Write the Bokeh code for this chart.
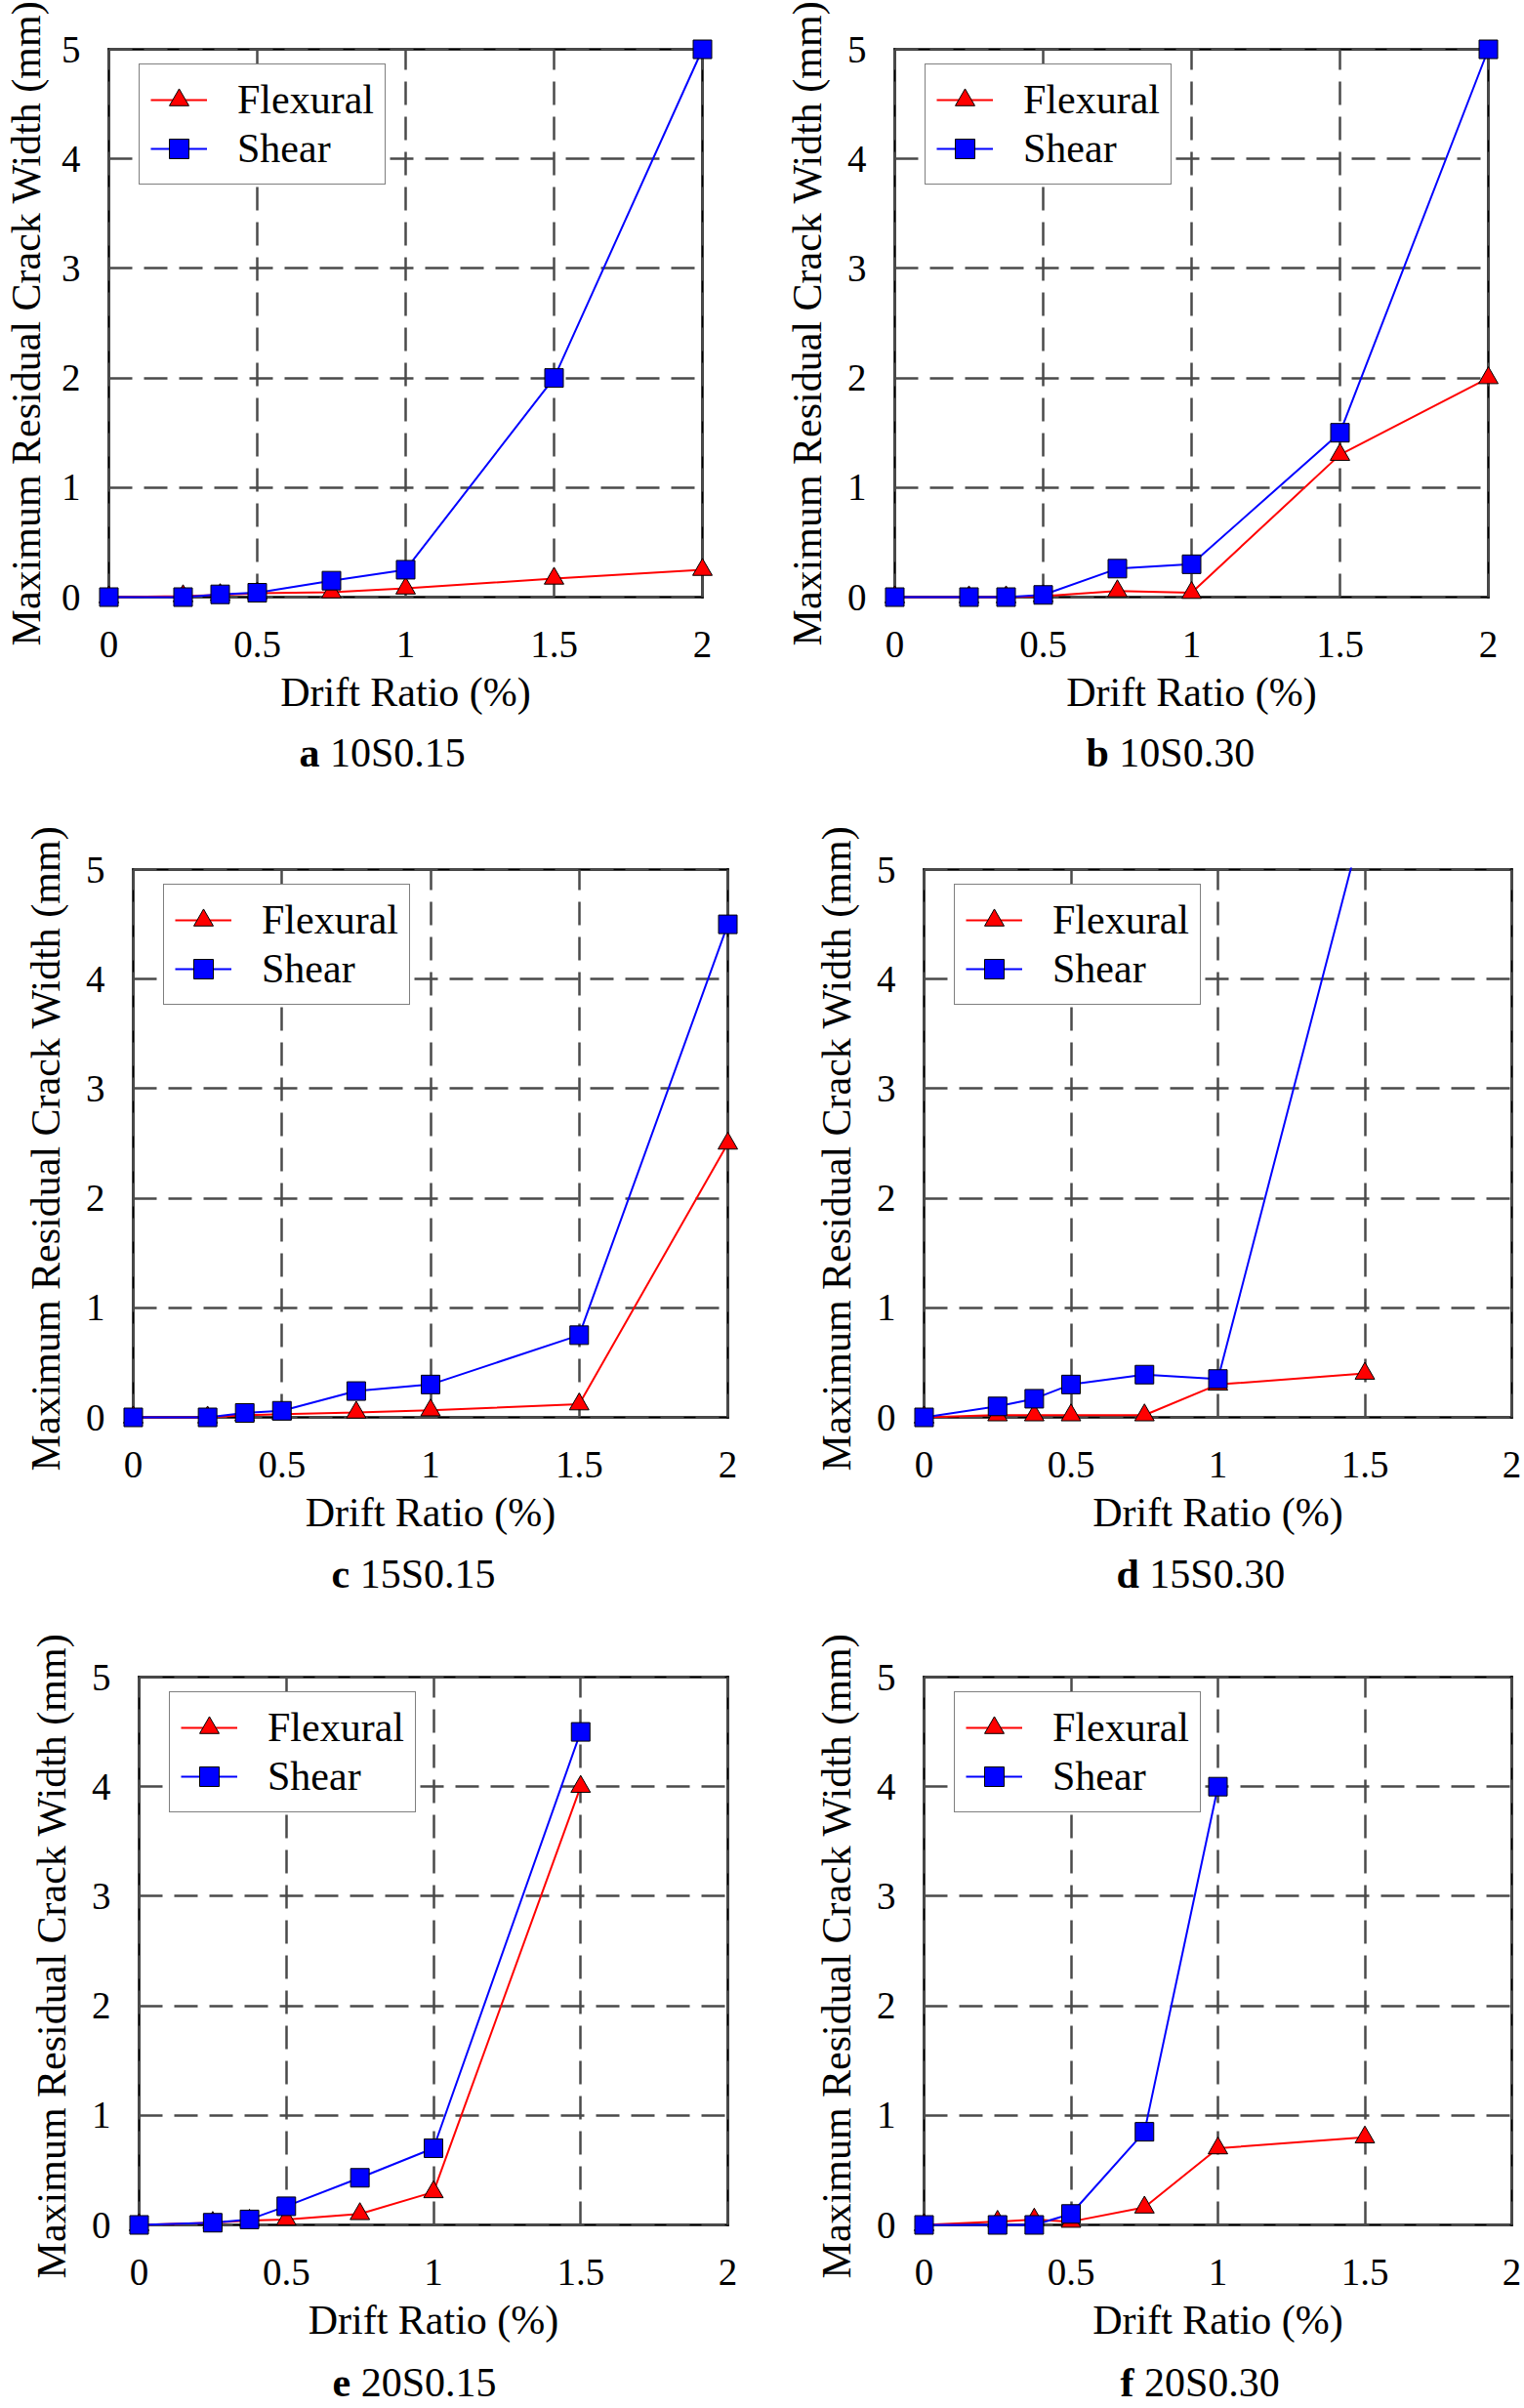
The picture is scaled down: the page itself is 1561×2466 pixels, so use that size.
from bokeh.plotting import figure
from bokeh.models import Label, LinearAxis, FixedTicker, NumeralTickFormatter, Range1d
from bokeh.layouts import column, row
from bokeh.embed import file_html
from bokeh.resources import INLINE

# ---------------- data ----------------
drift = [0, 0.25, 0.375, 0.5, 0.75, 1.0, 1.5, 2.0]

a_flexural = [0, 0.01, 0.02, 0.035, 0.045, 0.08, 0.17, 0.25]
a_shear = [0, 0, 0.025, 0.04, 0.15, 0.25, 2.0, 5.0]
b_flexural = [0, 0, 0, 0.01, 0.055, 0.04, 1.3, 2.0]
b_shear = [0, 0, 0, 0.02, 0.26, 0.3, 1.5, 5.0]
c_flexural = [0, 0, 0.02, 0.03, 0.045, 0.065, 0.12, 2.5]
c_shear = [0, 0, 0.04, 0.06, 0.24, 0.3, 0.75, 4.5]
d_flexural = [0, 0.02, 0.02, 0.02, 0.02, 0.3, 0.4]
d_shear = [0, 0.1, 0.17, 0.3, 0.39, 0.35, 5.5]
e_flexural = [0, 0.02, 0.04, 0.05, 0.1, 0.3, 4.0]
e_shear = [0, 0.02, 0.05, 0.17, 0.43, 0.7, 4.5]
f_flexural = [0, 0.03, 0.05, 0.03, 0.16, 0.7, 0.8]
f_shear = [0, 0, 0, 0.1, 0.85, 4.0]

x_ticks = [0, 0.5, 1, 1.5, 2]
y_ticks = [0, 1, 2, 3, 4, 5]
panel_letters = ["a", "b", "c", "d", "e", "f"]
panel_names = ["10S0.15", "10S0.30", "15S0.15", "15S0.30", "20S0.15", "20S0.30"]
series_names = ["Flexural", "Shear"]
x_title = "Drift Ratio (%)"
y_title = "Maximum Residual Crack Width (mm)"

X_MIN, X_MAX = x_ticks[0], x_ticks[-1]
Y_MIN, Y_MAX = y_ticks[0], y_ticks[-1]

# ---------------- style ----------------
FONT = "Liberation Serif"
TITLE_PX = 42
TICK_PX = 39
RED = "#FF0000"
BLUE = "#0000FF"
GRID = "#4a4a4a"
BOLD_W = {"a": 0.5, "b": 0.556, "c": 0.444, "d": 0.556, "e": 0.444, "f": 0.333}

LEFT_W, RIGHT_W = 776, 785
MB_BOTTOM = 125
# per row: top border inside the plot figure, caption strip height, caption anchor height
rows_geom = [
    dict(pt=12, top=50, strip=82, cap_y=60),
    dict(pt=2, top=60, strip=76, cap_y=53),
    dict(pt=2, top=53, strip=51, cap_y=27),
]
# per panel: figure width, box left, box width, caption x offset from box left, y-title standoff
panel_geom = {
    "a": dict(fw=LEFT_W, bl=105, bw=608, cx=201, ys=10),
    "b": dict(fw=RIGHT_W, bl=134, bw=608, cx=202, ys=15),
    "c": dict(fw=LEFT_W, bl=136, bw=609, cx=203, ys=15),
    "d": dict(fw=RIGHT_W, bl=170, bw=602, cx=197, ys=15),
    "e": dict(fw=LEFT_W, bl=142, bw=603, cx=198, ys=15),
    "f": dict(fw=RIGHT_W, bl=170, bw=602, cx=201, ys=15),
}
BOX_H = 561
PAD = 12


def no_ticks(ax):
    ax.major_tick_in = 0
    ax.major_tick_out = 0
    ax.minor_tick_in = 0
    ax.minor_tick_out = 0


def make_panel(letter, flex, shear, rg):
    g = panel_geom[letter]
    bl, bw, fw = g["bl"], g["bw"], g["fw"]
    pl = pr = pb = PAD
    pt = rg["pt"]
    bh = BOX_H
    ux = bw / (X_MAX - X_MIN)
    uy = bh / (Y_MAX - Y_MIN)
    frame_w = bw + pl + pr
    frame_h = bh + pb + pt
    mbl = bl - pl
    mbt = rg["top"] - pt
    p = figure(
        frame_width=frame_w, frame_height=frame_h,
        min_border_left=mbl, min_border_top=mbt,
        min_border_right=fw - mbl - frame_w,
        min_border_bottom=MB_BOTTOM,
        x_range=Range1d(X_MIN - pl / ux, X_MAX + pr / ux),
        y_range=Range1d(Y_MIN - pb / uy, Y_MAX + pt / uy),
        output_backend="svg", toolbar_location=None, tools="",
    )
    p.outline_line_color = None
    p.background_fill_color = "white"
    p.border_fill_color = "white"

    # labelled axes (tick labels + titles)
    xa = p.xaxis[0]
    ya = p.yaxis[0]
    xa.ticker = FixedTicker(ticks=x_ticks)
    ya.ticker = FixedTicker(ticks=y_ticks)
    xa.formatter = NumeralTickFormatter(format="0.[0]")
    ya.formatter = NumeralTickFormatter(format="0")
    for ax in (xa, ya):
        no_ticks(ax)
        ax.axis_line_color = None
        ax.major_label_text_font = FONT
        ax.major_label_text_font_size = f"{TICK_PX}px"
        ax.major_label_text_color = "black"
        ax.axis_label_text_font = FONT
        ax.axis_label_text_font_size = f"{TITLE_PX}px"
        ax.axis_label_text_font_style = "normal"
        ax.axis_label_text_color = "black"
    xa.major_label_standoff = 35 - pb
    ya.major_label_standoff = 29 - pl
    xa.axis_label = x_title
    ya.axis_label = y_title
    xa.axis_label_standoff = 10
    ya.axis_label_standoff = g["ys"]

    # box lines (drawn beneath the data)
    box_axes = [
        ("below", LinearAxis(fixed_location=Y_MIN, bounds=(X_MIN, X_MAX))),
        ("left", LinearAxis(fixed_location=X_MIN, bounds=(Y_MIN, Y_MAX))),
        ("above", LinearAxis(fixed_location=Y_MAX, bounds=(X_MIN, X_MAX))),
        ("right", LinearAxis(fixed_location=X_MAX, bounds=(Y_MIN, Y_MAX))),
    ]
    for side, ax in box_axes:
        ax.ticker = FixedTicker(ticks=[])
        no_ticks(ax)
        ax.major_label_standoff = 0
        ax.axis_line_color = "black"
        ax.axis_line_width = 2.5
        ax.axis_line_cap = "square"
        ax.level = "underlay"
        p.add_layout(ax, side)

    for grid, ticks, bnd, cb in ((p.xgrid[0], x_ticks, (X_MIN, X_MAX), (Y_MIN, Y_MAX)),
                                 (p.ygrid[0], y_ticks, (Y_MIN, Y_MAX), (X_MIN, X_MAX))):
        grid.ticker = FixedTicker(ticks=ticks)
        grid.bounds = bnd
        grid.cross_bounds = cb
        grid.grid_line_color = GRID
        grid.grid_line_width = 2.5
        grid.grid_line_dash = "24 12"

    xf = drift[:len(flex)]
    xs = drift[:len(shear)]
    p.line(xf, flex, line_color=RED, line_width=2, legend_label=series_names[0])
    p.scatter(xf, flex, marker="triangle", size=20, fill_color=RED, line_color="black",
              line_width=1, legend_label=series_names[0])
    p.line(xs, shear, line_color=BLUE, line_width=2, legend_label=series_names[1])
    p.scatter(xs, shear, marker="square", size=19, fill_color=BLUE, line_color="black",
              line_width=1, legend_label=series_names[1])

    lg = p.legend[0]
    lg.location = (pl + 31, frame_h - pt - 16 - 123)
    lg.margin = 0
    lg.padding = 11
    lg.spacing = 0
    lg.label_height = 44
    lg.glyph_height = 50
    lg.glyph_width = 58
    lg.label_standoff = 31
    lg.label_text_font = FONT
    lg.label_text_font_size = f"{TITLE_PX}px"
    lg.label_text_color = "black"
    lg.border_line_color = "black"
    lg.border_line_width = 1.5
    lg.background_fill_alpha = 1.0
    return p


def make_caption(letter, name, rg):
    g = panel_geom[letter]
    c = figure(width=g["fw"], height=rg["strip"], x_axis_type=None, y_axis_type=None,
               min_border=0, min_border_left=0, min_border_right=0,
               min_border_top=0, min_border_bottom=0,
               output_backend="svg", toolbar_location=None, tools="")
    c.outline_line_color = None
    c.background_fill_color = "white"
    c.border_fill_color = "white"
    cx = g["bl"] + g["cx"]
    c.add_layout(Label(x=cx, y=rg["cap_y"], x_units="screen", y_units="screen",
                       text=letter, text_align="left", text_baseline="alphabetic",
                       text_font=FONT, text_font_style="bold",
                       text_font_size=f"{TITLE_PX}px", text_color="black"))
    c.add_layout(Label(x=cx + (BOLD_W[letter] + 0.25) * TITLE_PX, y=rg["cap_y"],
                       x_units="screen", y_units="screen",
                       text=name, text_align="left", text_baseline="alphabetic",
                       text_font=FONT, text_font_size=f"{TITLE_PX}px",
                       text_color="black"))
    return c


flex_all = [a_flexural, b_flexural, c_flexural, d_flexural, e_flexural, f_flexural]
shear_all = [a_shear, b_shear, c_shear, d_shear, e_shear, f_shear]

children = []
for r in range(3):
    rg = rows_geom[r]
    idx = [2 * r, 2 * r + 1]
    plots = [make_panel(panel_letters[i], flex_all[i], shear_all[i], rg) for i in idx]
    caps = [make_caption(panel_letters[i], panel_names[i], rg) for i in idx]
    children.append(row(*plots, spacing=0))
    children.append(row(*caps, spacing=0))

layout = column(*children, spacing=0)

open("out.html", "w").write(file_html(layout, INLINE))
